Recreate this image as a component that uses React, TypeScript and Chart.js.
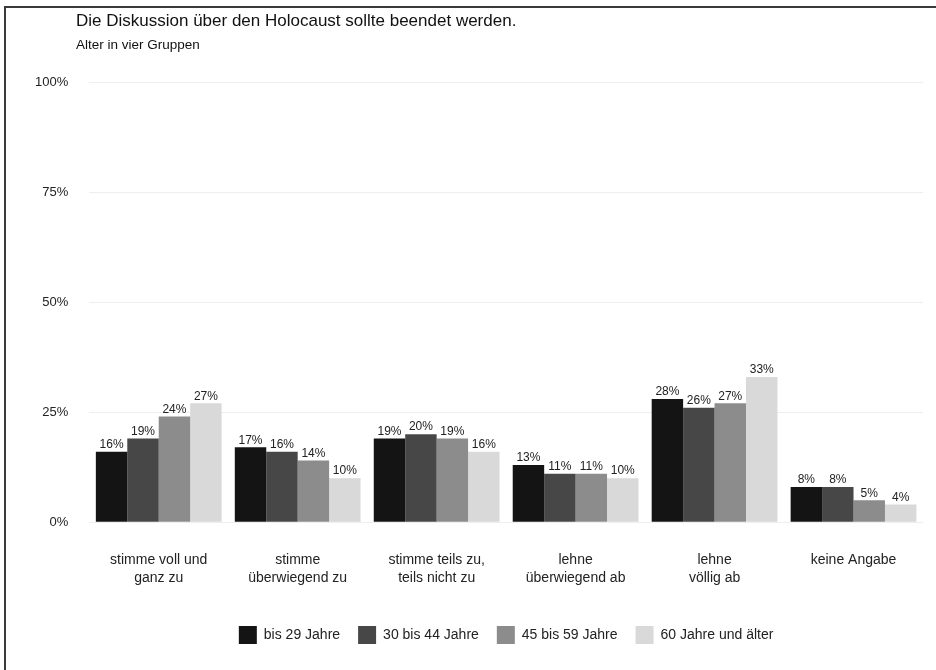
import React, { useEffect, useRef } from "react";
import { Chart, registerables } from "chart.js";

Chart.register(...registerables);

const categories: (string | string[])[] = [
  ["stimme voll und", "ganz zu"],
  ["stimme", "überwiegend zu"],
  ["stimme teils zu,", "teils nicht zu"],
  ["lehne", "überwiegend ab"],
  ["lehne", "völlig ab"],
  "keine Angabe",
];
const seriesNames = ["bis 29 Jahre", "30 bis 44 Jahre", "45 bis 59 Jahre", "60 Jahre und älter"];
const bis29 = [16, 17, 19, 13, 28, 8];
const bis44 = [19, 16, 20, 11, 26, 8];
const bis59 = [24, 14, 19, 11, 27, 5];
const ab60 = [27, 10, 16, 10, 33, 4];
const seriesColors = ["#141414", "#474747", "#8c8c8c", "#d9d9d9"];
const yTicks = [0, 25, 50, 75, 100];
const titleText = "Die Diskussion über den Holocaust sollte beendet werden.";
const subtitleText = "Alter in vier Gruppen";

const FONT = "'Liberation Sans', Arial, sans-serif";

const decorPlugin = {
  id: "decor",
  afterDraw(chart: any) {
    const ctx = chart.ctx;
    ctx.save();
    ctx.fillStyle = "#3a3a3a";
    ctx.fillRect(4, 6, 2, chart.height);
    ctx.fillRect(4, 6, chart.width, 2);
    ctx.fillStyle = "#111";
    ctx.textAlign = "left";
    ctx.textBaseline = "middle";
    ctx.font = `17px ${FONT}`;
    ctx.fillText(titleText, 76, 21);
    ctx.font = `13.5px ${FONT}`;
    ctx.fillText(subtitleText, 76, 45);
    // value labels
    ctx.font = `12px ${FONT}`;
    ctx.textAlign = "center";
    ctx.textBaseline = "bottom";
    ctx.fillStyle = "#222";
    chart.data.datasets.forEach((ds: any, i: number) => {
      const meta = chart.getDatasetMeta(i);
      meta.data.forEach((bar: any, j: number) => {
        ctx.fillText(ds.data[j] + "%", bar.x, bar.y - 1);
      });
    });
    ctx.restore();
  },
};

export default function App() {
  const ref = useRef<HTMLCanvasElement>(null);
  useEffect(() => {
    const values = [bis29, bis44, bis59, ab60];
    const chart = new Chart(ref.current!, {
      type: "bar",
      data: {
        labels: categories,
        datasets: seriesNames.map((n, i) => ({
          label: n,
          data: values[i],
          backgroundColor: seriesColors[i],
          borderWidth: 0,
          barPercentage: 1,
          categoryPercentage: 0.905,
        })),
      },
      options: {
        animation: false,
        responsive: false,
        layout: { padding: { left: 14, right: 13, top: 82, bottom: 16 } },
        scales: {
          x: {
            grid: { display: false },
            border: { display: false },
            ticks: {
              color: "#222",
              font: { family: FONT, size: 14, lineHeight: 1.35 },
              padding: 20,
              maxRotation: 0,
            },
          },
          y: {
            min: 0,
            max: 100,
            afterBuildTicks: (axis: any) => {
              axis.ticks = yTicks.map((v) => ({ value: v }));
            },
            grid: { color: "#eeeeee", drawTicks: false },
            border: { display: false },
            ticks: {
              color: "#222",
              font: { family: FONT, size: 13 },
              padding: 21,
              callback: (v: any) => v + "%",
            },
          },
        },
        plugins: {
          legend: {
            position: "bottom",
            fullSize: false,
            labels: {
              color: "#222",
              font: { family: FONT, size: 14 },
              boxWidth: 18,
              boxHeight: 18,
              padding: 18,
            },
          },
          tooltip: { enabled: false },
        },
      },
      plugins: [decorPlugin],
    });
    return () => chart.destroy();
  }, []);
  return (
    <div style={{ position: "absolute", left: 0, top: 0, width: 936, height: 670, background: "#fff" }}>
      <canvas ref={ref} width={936} height={670} />
    </div>
  );
}
